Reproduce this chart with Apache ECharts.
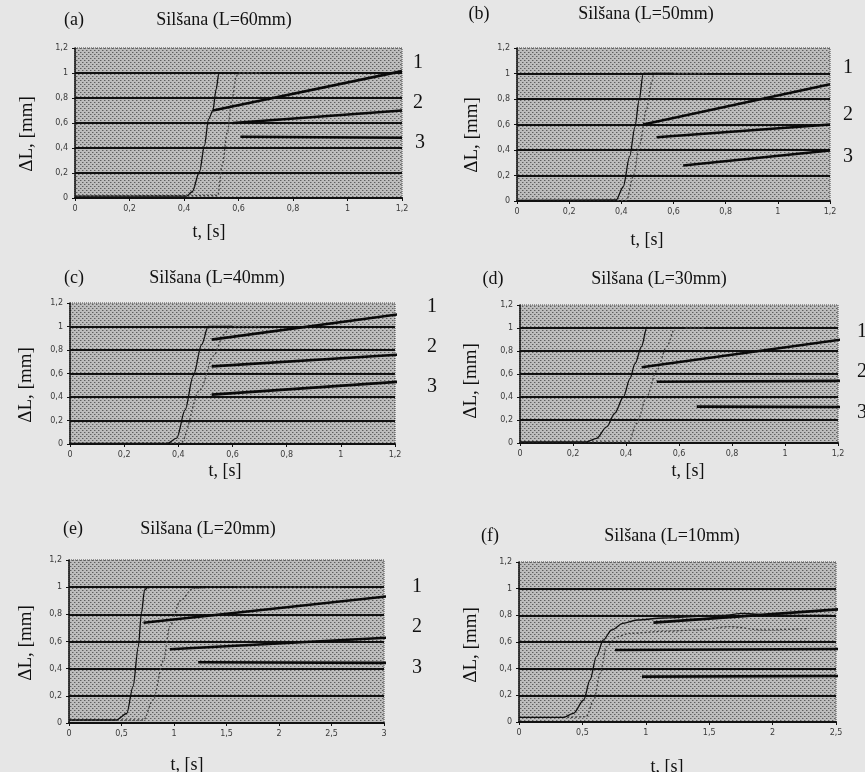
<!DOCTYPE html>
<html>
<head>
<meta charset="utf-8">
<script src="https://cdn.jsdelivr.net/npm/echarts@6/dist/echarts.min.js"></script>
<style>
  html, body { margin: 0; padding: 0; background: #e6e6e6; }
  #chart { width: 865px; height: 772px; }
</style>
</head>
<body>
<div id="chart"></div>
<script>
// panel names and tags
const tags = ['(a)', '(b)', '(c)', '(d)', '(e)', '(f)'];
const titles = ['Silšana (L=60mm)', 'Silšana (L=50mm)', 'Silšana (L=40mm)',
  'Silšana (L=30mm)', 'Silšana (L=20mm)', 'Silšana (L=10mm)'];

// x axis ranges (t, s)
const xMax = [1.2, 1.2, 1.2, 1.2, 3, 2.5];
const xStep = [0.2, 0.2, 0.2, 0.2, 0.5, 0.5];
// y axis (dL, mm)
const yMax = 1.2;
const yStep = 0.2;

// solid curves [t, dL]
const solidA = [[0, 0.015], [0.41, 0.015], [0.43, 0.05], [0.457, 0.21], [0.475, 0.42], [0.49, 0.63], [0.506, 0.7], [0.518, 0.87], [0.528, 1.0], [0.6, 1.0]];
const solidB = [[0, 0.005], [0.38, 0.008], [0.407, 0.11], [0.432, 0.35], [0.452, 0.58], [0.468, 0.79], [0.484, 1.0], [0.6, 1.0]];
const solidC = [[0, 0.005], [0.36, 0.005], [0.394, 0.05], [0.425, 0.29], [0.455, 0.58], [0.486, 0.845], [0.51, 1.0], [0.6, 1.0]];
const solidD = [[0, 0.01], [0.25, 0.01], [0.289, 0.04], [0.327, 0.14], [0.358, 0.26], [0.39, 0.4], [0.415, 0.56], [0.434, 0.69], [0.459, 0.84], [0.478, 1.0], [0.62, 1.0]];
const solidE = [[0, 0.022], [0.45, 0.022], [0.55, 0.07], [0.61, 0.27], [0.66, 0.56], [0.69, 0.81], [0.72, 0.98], [0.755, 1.0], [1.6, 1.0]];
const solidF = [[0, 0.035], [0.35, 0.035], [0.43, 0.065], [0.51, 0.165], [0.56, 0.315], [0.61, 0.49], [0.665, 0.615], [0.73, 0.69], [0.82, 0.74], [0.93, 0.765], [1.14, 0.78], [1.61, 0.8], [1.77, 0.815], [2.0, 0.8], [2.45, 0.8]];

// dotted curves [t, dL]
const dottedA = [[0, 0.015], [0.524, 0.02], [0.54, 0.26], [0.559, 0.525], [0.576, 0.79], [0.592, 0.975], [0.6, 1.0], [0.68, 1.0]];
const dottedB = [[0, 0.005], [0.42, 0.005], [0.445, 0.19], [0.471, 0.45], [0.496, 0.715], [0.516, 0.925], [0.525, 1.0], [0.727, 1.0]];
const dottedC = [[0, 0.005], [0.41, 0.01], [0.48, 0.46], [0.53, 0.75], [0.568, 0.93], [0.59, 1.0], [0.7, 1.0]];
const dottedD = [[0, 0.01], [0.41, 0.01], [0.44, 0.17], [0.478, 0.4], [0.516, 0.63], [0.554, 0.84], [0.585, 1.0], [0.7, 1.0]];
const dottedE = [[0, 0.022], [0.71, 0.022], [0.8, 0.17], [0.9, 0.46], [0.96, 0.71], [1.06, 0.9], [1.18, 0.99], [1.37, 1.0], [2.6, 1.0]];
const dottedF = [[0, 0.035], [0.4, 0.035], [0.53, 0.04], [0.59, 0.165], [0.64, 0.365], [0.69, 0.565], [0.77, 0.64], [0.875, 0.665], [1.14, 0.68], [1.4, 0.69], [1.66, 0.715], [1.93, 0.69], [2.27, 0.7]];

// straight lines 1, 2, 3 (start, end)
const linesA = [[[0.506, 0.7], [1.2, 1.015]], [[0.58, 0.6], [1.2, 0.7]], [[0.607, 0.49], [1.2, 0.482]]];
const linesB = [[[0.484, 0.6], [1.2, 0.915]], [[0.535, 0.5], [1.2, 0.6]], [[0.637, 0.278], [1.2, 0.396]]];
const linesC = [[[0.523, 0.888], [1.274, 1.123]], [[0.523, 0.661], [1.274, 0.769]], [[0.523, 0.42], [1.274, 0.539]]];
const linesD = [[[0.459, 0.658], [1.226, 0.904]], [[0.516, 0.533], [1.226, 0.54]], [[0.667, 0.316], [1.226, 0.313]]];
const linesE = [[[0.71, 0.738], [3.15, 0.942]], [[0.96, 0.543], [3.15, 0.633]], [[1.23, 0.447], [3.15, 0.442]]];
const linesF = [[[1.06, 0.745], [2.67, 0.855]], [[0.757, 0.54], [2.67, 0.548]], [[0.97, 0.34], [2.67, 0.345]]];

const solids = [solidA, solidB, solidC, solidD, solidE, solidF];
const dotteds = [dottedA, dottedB, dottedC, dottedD, dottedE, dottedF];
const lines = [linesA, linesB, linesC, linesD, linesE, linesF];
const lineNames = ['1', '2', '3'];

// layout (pixels)
const boxes = [
  { left: 75, top: 48, width: 327, height: 150 },
  { left: 517, top: 48, width: 313, height: 153 },
  { left: 70, top: 303, width: 325, height: 141 },
  { left: 520, top: 305, width: 318, height: 138 },
  { left: 69, top: 560, width: 315, height: 163 },
  { left: 519, top: 562, width: 317, height: 160 }
];
const tagPos = [[74, 20], [479, 14], [74, 278], [493, 279], [73, 529], [490, 536]];
const titlePos = [[224, 20], [646, 14], [217, 278], [659, 279], [208, 529], [672, 536]];
const yNamePos = [[27, 134], [472, 135], [26, 385], [471, 381], [26, 643], [471, 645]];
const xNamePos = [[209, 232], [647, 240], [225, 471], [688, 471], [187, 765], [667, 767]];
const numPos = [
  [[418, 63], [418, 103], [420, 143]],
  [[848, 68], [848, 115], [848, 157]],
  [[432, 307], [432, 347], [432, 387]],
  [[862, 332], [862, 372], [862, 413]],
  [[417, 587], [417, 627], [417, 668]],
  null
];

// halftone fill for the plot area
function halftone() {
  const c = document.createElement('canvas');
  c.width = 4; c.height = 4;
  const ctx = c.getContext('2d');
  ctx.fillStyle = '#bcbcbc';
  ctx.fillRect(0, 0, 4, 4);
  ctx.fillStyle = '#5e5e5e';
  ctx.fillRect(0, 0, 1, 1);
  ctx.fillRect(2, 2, 1, 1);
  ctx.fillStyle = '#939393';
  ctx.fillRect(1, 0, 1, 1);
  ctx.fillRect(3, 2, 1, 1);
  return c;
}
const pattern = { image: halftone(), repeat: 'repeat' };

const comma = v => String(+v.toFixed(2)).replace('.', ',');
const serif = '"Liberation Serif", "DejaVu Serif", serif';
const ink = '#111';

const grid = [], xAxis = [], yAxis = [], series = [], graphic = [];

boxes.forEach((b, i) => {
  grid.push(Object.assign({
    show: true,
    backgroundColor: pattern,
    borderColor: '#444',
    borderWidth: 1,
    borderType: 'dotted'
  }, b));

  xAxis.push({
    type: 'value', gridIndex: i, min: 0, max: xMax[i], interval: xStep[i],
    axisLine: { show: true, onZero: false, lineStyle: { color: ink, width: 2 } },
    axisTick: { show: true, length: 3, lineStyle: { color: ink } },
    axisLabel: { color: '#3a3a3a', fontSize: 8, margin: 7, formatter: comma, fontFamily: 'DejaVu Sans' },
    splitLine: { show: false }
  });

  yAxis.push({
    type: 'value', gridIndex: i, min: 0, max: yMax, interval: yStep,
    axisLine: { show: true, lineStyle: { color: ink, width: 1.5 } },
    axisTick: { show: true, length: 3, lineStyle: { color: ink } },
    axisLabel: { color: '#3a3a3a', fontSize: 8, margin: 7, formatter: comma, fontFamily: 'DejaVu Sans' },
    splitLine: {
      show: true,
      lineStyle: { width: 2, color: [ink, ink, ink, ink, ink, ink, 'rgba(0,0,0,0)'] }
    }
  });

  series.push({
    type: 'line', xAxisIndex: i, yAxisIndex: i, data: dotteds[i],
    showSymbol: false, smooth: 0.3, smoothMonotone: 'x',
    lineStyle: { color: '#444', width: 1.3, type: [2, 2] }, z: 3
  });
  series.push({
    type: 'line', xAxisIndex: i, yAxisIndex: i, data: solids[i],
    showSymbol: false, smooth: 0.3, smoothMonotone: 'x',
    lineStyle: { color: '#111', width: 1.3 }, z: 4
  });
  lines[i].forEach((seg, k) => {
    series.push({
      type: 'line', name: lineNames[k], xAxisIndex: i, yAxisIndex: i, data: seg,
      showSymbol: false, clip: false,
      lineStyle: { color: '#0a0a0a', width: 2.6 }, z: 5
    });
  });

  const txt = (pos, text, size, extra) => Object.assign({
    type: 'text', x: pos[0], y: pos[1],
    style: { text: text, font: size + 'px ' + serif, fill: ink, align: 'center', verticalAlign: 'middle' }
  }, extra || {});

  graphic.push(txt(tagPos[i], tags[i], 18));
  graphic.push(txt(titlePos[i], titles[i], 18));
  graphic.push(txt(yNamePos[i], 'ΔL, [mm]', 19, { rotation: Math.PI / 2 }));
  graphic.push(txt(xNamePos[i], 't, [s]', 18));
  if (numPos[i]) {
    numPos[i].forEach((p, k) => graphic.push(txt(p, lineNames[k], 20)));
  }
});

const chart = echarts.init(document.getElementById('chart'));
chart.setOption({
  backgroundColor: '#e6e6e6',
  animation: false,
  grid: grid,
  xAxis: xAxis,
  yAxis: yAxis,
  series: series,
  graphic: graphic
});
</script>
</body>
</html>
